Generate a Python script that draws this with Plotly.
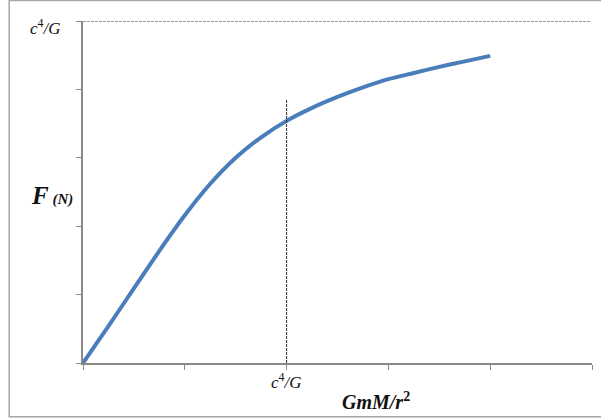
import plotly.graph_objects as go

# Data
x_vals = [0, 0.25, 0.5, 0.75, 1.0, 1.25, 1.5, 1.75, 2.0, 2.25, 2.5, 2.75, 3.0, 3.25, 3.5, 3.75, 4.0]
f_vals = [0, 0.54, 1.09, 1.64, 2.16, 2.62, 3.00, 3.30, 3.54, 3.73, 3.89, 4.03, 4.15, 4.24, 4.33, 4.41, 4.49]
limit_y = 5          # c^4/G level on F axis
limit_x = 2          # c^4/G position on x axis
vline_top = 3.85
hline_end = 4.98
tick_vals = [0, 1, 2, 3, 4, 5]

fig = go.Figure()
fig.add_trace(go.Scatter(x=x_vals, y=f_vals, mode="lines",
                         line=dict(color="#4A7EBB", width=4, shape="spline", smoothing=0.5),
                         showlegend=False, hoverinfo="skip"))
# dashed reference lines
fig.add_trace(go.Scatter(x=[0, hline_end], y=[limit_y, limit_y], mode="lines",
                         line=dict(color="#303030", width=1, dash="3px,1px"),
                         showlegend=False, hoverinfo="skip", cliponaxis=False))
fig.add_trace(go.Scatter(x=[limit_x, limit_x], y=[0, vline_top], mode="lines",
                         line=dict(color="#303030", width=1, dash="3px,1px"),
                         showlegend=False, hoverinfo="skip"))

axis_common = dict(showgrid=False, zeroline=False, showline=True, linecolor="#888888",
                   linewidth=1.5, ticks="outside", ticklen=5, tickcolor="#888888",
                   showticklabels=False, tickmode="array", tickvals=tick_vals,
                   range=[0, 5], fixedrange=True)

fig.update_layout(
    width=601, height=419,
    margin=dict(l=83, r=9, t=21, b=56),
    paper_bgcolor="white", plot_bgcolor="white",
    xaxis=axis_common,
    yaxis=axis_common,
    font=dict(family="Liberation Serif", color="#111111"),
)

# Outer border
fig.add_shape(type="rect", xref="paper", yref="paper",
              x0=-0.145, x1=1.03, y0=-0.157, y1=1.06,
              line=dict(color="#a6a6a6", width=1.5), fillcolor="rgba(0,0,0,0)", layer="above")

fig.add_annotation(xref="paper", yref="y", x=-0.04, y=limit_y, yshift=-6,
                   text="<i>c</i><sup>4</sup><i>/G</i>", showarrow=False,
                   xanchor="right", yanchor="middle",
                   font=dict(family="Liberation Serif", size=17, color="#111111"))
fig.add_annotation(xref="x", yref="paper", x=limit_x, y=0, yshift=-5,
                   text="<i>c</i><sup>4</sup><i>/G</i>", showarrow=False,
                   xanchor="center", yanchor="top",
                   font=dict(family="Liberation Serif", size=17, color="#111111"))
fig.add_annotation(xref="paper", yref="y", x=-0.015, y=2.45,
                   text="<b><i>F</i></b><b><i><span style='font-size:15px'> (N)</span></i></b>",
                   showarrow=False, xanchor="right", yanchor="middle",
                   font=dict(family="Liberation Serif", size=25, color="#111111"))
fig.add_annotation(xref="x", yref="paper", x=2.88, y=0, yshift=-24,
                   text="<b><i>GmM/r</i></b><b><sup>2</sup></b>", showarrow=False,
                   xanchor="center", yanchor="top",
                   font=dict(family="Liberation Serif", size=20, color="#111111"))

fig.write_html("out.html", config={"displayModeBar": False},
               post_script="document.body.style.margin='0px';")
